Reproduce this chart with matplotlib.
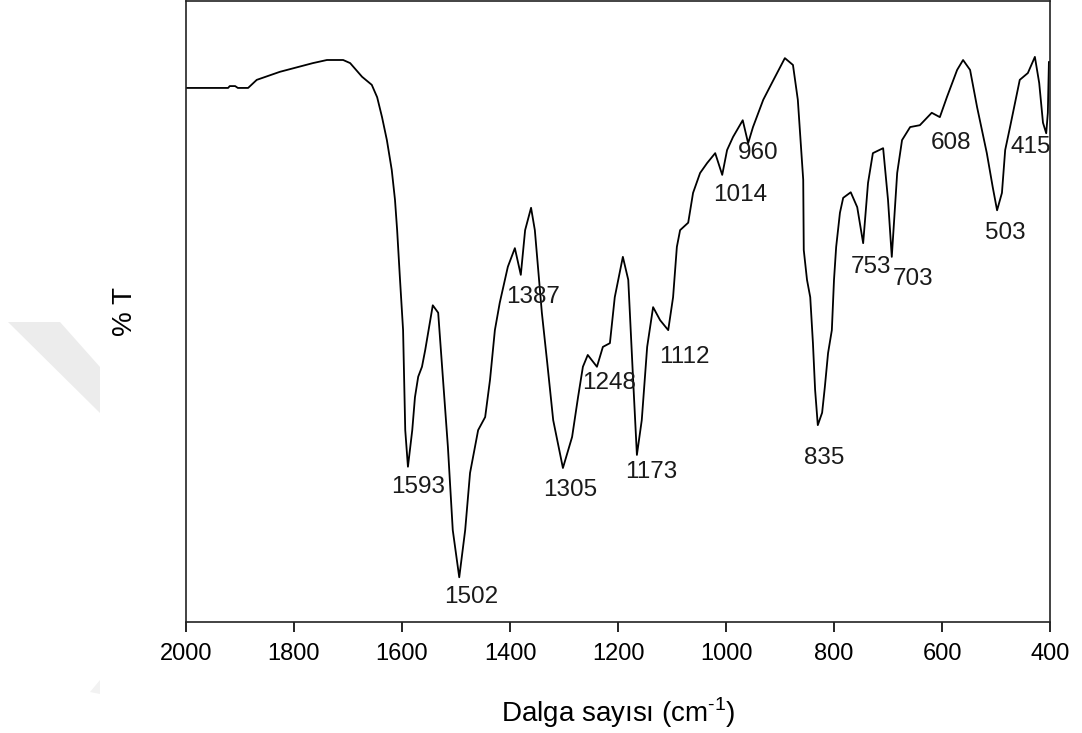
import matplotlib
matplotlib.use("Agg")
import matplotlib.pyplot as plt
from matplotlib.patches import Polygon

plt.rcParams['font.family'] = ['Liberation Sans', 'DejaVu Sans']
plt.rcParams['mathtext.fontset'] = 'custom'
plt.rcParams['mathtext.rm'] = 'Liberation Sans'

# FTIR spectrum (wavenumber in cm-1, %T in arbitrary 0-100 scale)
wavenumber = [2000, 1922, 1919, 1909, 1904, 1885, 1869, 1826, 1765, 1739, 1709, 1696,
              1674, 1656, 1646, 1637, 1628, 1619, 1613, 1609, 1604, 1598, 1596, 1594,
              1589, 1581, 1576, 1570, 1563, 1557, 1543, 1533, 1524, 1515, 1506, 1494,
              1483, 1474, 1459, 1446, 1437, 1428, 1419, 1404, 1391, 1380, 1372, 1361,
              1354, 1341, 1331, 1320, 1302, 1285, 1274, 1265, 1256, 1239, 1228, 1215,
              1206, 1191, 1181, 1172, 1165, 1156, 1146, 1135, 1122, 1107, 1098, 1091,
              1085, 1070, 1061, 1048, 1035, 1020, 1007, 998, 987, 969, 959, 950,
              931, 915, 891, 876, 867, 857, 856, 850, 844, 839, 835, 830,
              822, 817, 811, 804, 800, 796, 789, 783, 769, 757, 746, 737,
              728, 709, 700, 693, 683, 674, 659, 641, 619, 604, 591, 572,
              561, 548, 535, 517, 506, 498, 489, 483, 474, 456, 441, 428,
              420, 413, 407, 404, 402, 400]
transmittance = [86.0, 86.0, 86.3, 86.3, 86.0, 86.0, 87.3, 88.6, 90.0, 90.5, 90.5, 90.0,
                 87.8, 86.5, 84.5, 81.3, 77.6, 72.8, 68.0, 63.1, 55.6, 47.0, 39.0, 30.9,
                 25.0, 30.9, 36.2, 39.5, 41.1, 43.8, 51.0, 49.8, 39.0, 28.2, 14.8, 7.2,
                 14.8, 24.0, 30.9, 33.0, 39.0, 47.0, 51.4, 57.2, 60.2, 55.9, 63.1, 66.7,
                 63.1, 49.8, 41.7, 32.5, 24.8, 29.8, 36.2, 41.1, 43.0, 41.1, 44.3, 44.9,
                 52.3, 58.8, 55.1, 39.0, 26.9, 32.5, 44.3, 50.7, 48.6, 47.0, 52.3, 60.4,
                 63.1, 64.3, 69.1, 72.3, 73.9, 75.5, 72.0, 76.0, 78.1, 80.8, 77.1, 79.7,
                 84.1, 86.8, 90.8, 89.7, 84.1, 71.2, 59.9, 55.1, 52.3, 44.9, 37.4, 31.7,
                 33.7, 37.8, 43.3, 47.0, 55.1, 60.4, 65.9, 68.3, 69.2, 66.8, 61.0, 70.7,
                 75.5, 76.3, 68.0, 58.8, 72.3, 77.6, 79.7, 80.0, 82.0, 81.3, 84.5, 88.9,
                 90.5, 88.9, 82.9, 75.5, 70.0, 66.3, 69.1, 76.0, 79.7, 87.3, 88.4, 91.0,
                 86.8, 80.4, 78.7, 82.0, 90.2, 90.2]

# peak labels: text, x, y (label position)
peak_text = ["1593", "1502", "1387", "1305", "1248", "1173", "1112", "1014",
             "960", "835", "753", "703", "608", "503", "415"]
peak_x = [1570, 1472, 1357, 1289, 1217, 1139, 1078, 974, 941, 819, 731, 654, 583, 483, 435]
peak_y = [21.7, 4.0, 52.3, 21.3, 38.5, 24.2, 42.7, 68.8, 75.5, 26.4, 57.2, 55.2, 77.1, 62.6, 76.5]

xticks = [2000, 1800, 1600, 1400, 1200, 1000, 800, 600, 400]

W, H = 1082, 733
fig = plt.figure(figsize=(W / 100, H / 100), dpi=100)
ax = fig.add_axes([186 / W, 1 - 622 / H, 864 / W, 621 / H])

# faint watermark shapes at the left edge
def px(pts):
    return [(x / W, 1 - y / H) for x, y in pts]

fig.patches.append(Polygon(px([(8, 322), (60, 322), (100, 367), (100, 413)]),
                           closed=True, transform=fig.transFigure, facecolor='#ececec',
                           edgecolor='none', zorder=0))
fig.patches.append(Polygon(px([(90, 692), (100, 680), (100, 694)]),
                           closed=True, transform=fig.transFigure, facecolor='#f2f2f2',
                           edgecolor='none', zorder=0))

ax.plot(wavenumber, transmittance, color='black', lw=1.3)

for t, x, y in zip(peak_text, peak_x, peak_y):
    ax.text(x, y, t, ha='center', va='center', fontsize=17.5, color='#1a1a1a')

ax.set_xlim(2000, 400)
ax.set_ylim(0, 100)
ax.set_xticks(xticks)
ax.set_xticklabels([str(v) for v in xticks])
ax.set_yticks([])
ax.tick_params(axis='x', direction='out', length=7, width=1.2, labelsize=17, pad=8)
for s in ax.spines.values():
    s.set_linewidth(1.2)
    s.set_color('#222222')

ax.set_xlabel(r'Dalga sayısı (cm$^{\text{-1}}$)', fontsize=20)
ax.xaxis.set_label_coords(0.5, -0.118)
ax.set_ylabel('% T', fontsize=20)
ax.yaxis.set_label_coords(-0.055, 0.5)

fig.savefig('out.png', dpi=100)
